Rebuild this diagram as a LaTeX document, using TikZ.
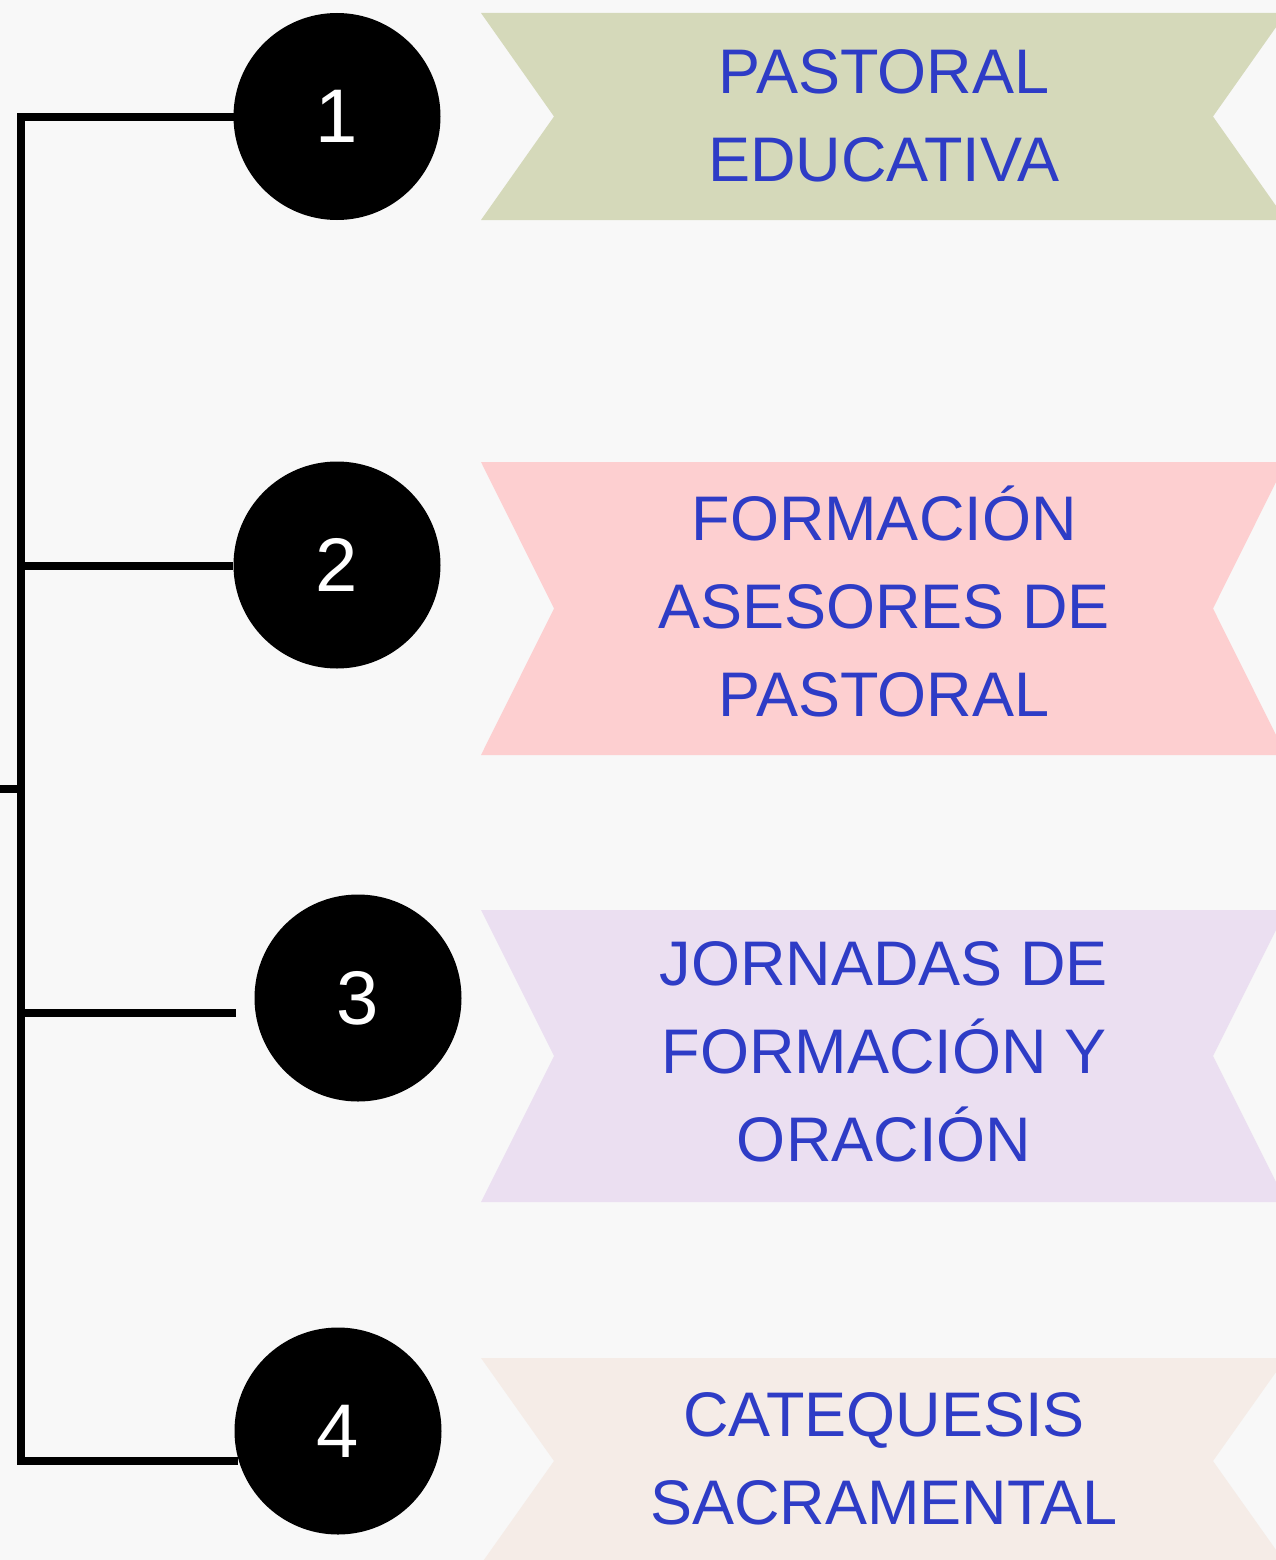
\documentclass[tikz,border=0pt]{standalone}
\usepackage{fontspec}
\setmainfont{Liberation Sans}
\definecolor{bgc}{HTML}{F8F8F8}
\definecolor{ribA}{HTML}{D5D9BA}
\definecolor{ribB}{HTML}{FDCFD0}
\definecolor{ribC}{HTML}{EBDFF1}
\definecolor{ribD}{HTML}{F5ECE7}
\definecolor{txtblue}{HTML}{2E3CC6}
\begin{document}
\begin{tikzpicture}[x=1pt,y=-1pt,
  numcirc/.style={circle,fill=black,minimum size=207pt,inner sep=0pt,text=white,font=\fontsize{76}{76}\selectfont},
  ribtext/.style={align=center,text=txtblue,font=\fontsize{63}{88}\selectfont,inner sep=0pt},
  bracket/.style={line width=8pt,draw=black}]
\fill[bgc] (0,0) rectangle (1276,1560);
\useasboundingbox (0,0) rectangle (1276,1560);
% ribbons
\fill[ribA] (481,13) -- (1286,13) -- (1213,116.5) -- (1286,220) -- (481,220) -- (554,116.5) -- cycle;
\fill[ribB] (481,462) -- (1286,462) -- (1213,608.5) -- (1286,755) -- (481,755) -- (554,608.5) -- cycle;
\fill[ribC] (481,910) -- (1286,910) -- (1213,1056) -- (1286,1202) -- (481,1202) -- (554,1056) -- cycle;
\fill[ribD] (481,1358) -- (1286,1358) -- (1213,1461) -- (1286,1564) -- (481,1564) -- (554,1461) -- cycle;
% texts
\node[ribtext] (t1) at (884,115.5) {PASTORAL\\EDUCATIVA};
\node[ribtext] (t2) at (884,601.5) {FORMACIÓN\\ASESORES DE\\PASTORAL};
\node[ribtext] (t3) at (884,1051.5) {JORNADAS DE\\FORMACIÓN Y\\ORACIÓN};
\node[ribtext] (t4) at (884,1459) {CATEQUESIS\\SACRAMENTAL};
% circles
\node[numcirc] (c1) at (337,116.5) {1};
\node[numcirc] (c2) at (337,565) {2};
\node[numcirc] (c3) at (358,998) {3};
\node[numcirc] (c4) at (338,1431) {4};
% bracket
\coordinate (top) at (21,117);
\coordinate (bot) at (21,1461);
\coordinate (b2) at (21,566);
\coordinate (b3) at (21,1013);
\coordinate (e3) at (236,1013);
\coordinate (bm) at (21,789);
\coordinate (stub) at (0,789);
\draw[bracket,line cap=rect] (c1.west |- top) -- (top) -- (bot) -- (c4.west |- bot);
\draw[bracket] (b2) -- (c2.west |- b2);
\draw[bracket] (b3) -- (e3);
\draw[bracket] (stub) -- (bm);
\end{tikzpicture}
\end{document}
